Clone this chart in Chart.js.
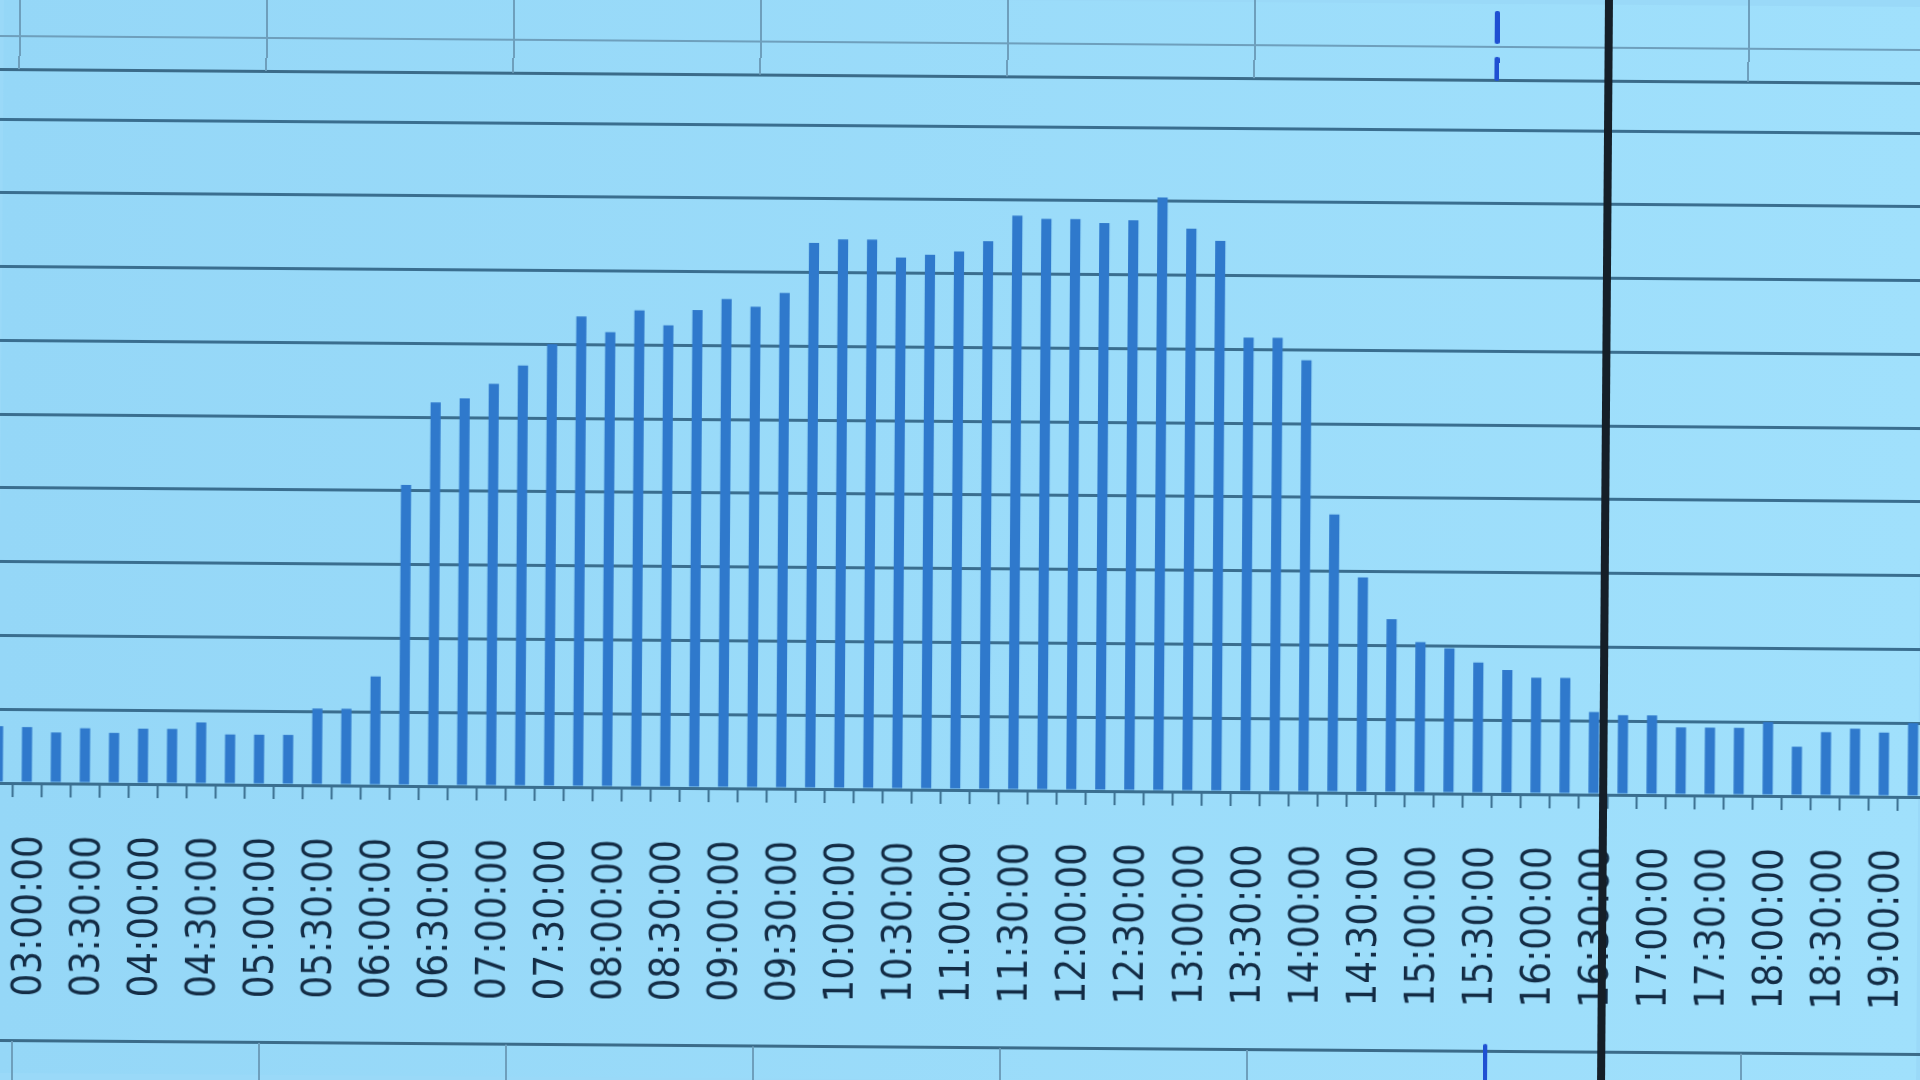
<!DOCTYPE html>
<html>
<head>
<meta charset="utf-8">
<script src="https://cdn.jsdelivr.net/npm/chart.js@4/dist/chart.umd.min.js"></script>
<style>
  html, body { margin: 0; padding: 0; width: 1920px; height: 1080px; overflow: hidden; background: #9ad9f8; }
  #screen {
    position: absolute; left: 0; top: 0; width: 1920px; height: 1080px;
    background: linear-gradient(to right, #95d7f7, #a0e0fc);
    transform: rotate(0.42deg); transform-origin: 960px 540px;
  }
  #myChart { position: absolute; left: -15px; top: 0; }
  .hline { position: absolute; left: -40px; width: 2000px; }
  .vline { position: absolute; width: 2px; background: #6e9fbc; }
  .mark { position: absolute; width: 5px; background: #1f50d2; border-radius: 2px; }
  #splitter { position: absolute; left: 1601px; top: -20px; width: 8px; height: 1120px; background: #151f28; }
</style>
</head>
<body>
<div id="screen">
  <canvas id="myChart" width="1944" height="1080"></canvas>
  <div id="sheet"></div>
  <div id="splitter"></div>
</div>
<script>
"use strict";

const timeLabels = [
  "02:45:00", "03:00:00", "03:15:00", "03:30:00", "03:45:00", "04:00:00", "04:15:00", "04:30:00", "04:45:00",
  "05:00:00", "05:15:00", "05:30:00", "05:45:00", "06:00:00", "06:15:00", "06:30:00", "06:45:00",
  "07:00:00", "07:15:00", "07:30:00", "07:45:00", "08:00:00", "08:15:00", "08:30:00", "08:45:00",
  "09:00:00", "09:15:00", "09:30:00", "09:45:00", "10:00:00", "10:15:00", "10:30:00", "10:45:00",
  "11:00:00", "11:15:00", "11:30:00", "11:45:00", "12:00:00", "12:15:00", "12:30:00", "12:45:00",
  "13:00:00", "13:15:00", "13:30:00", "13:45:00", "14:00:00", "14:15:00", "14:30:00", "14:45:00",
  "15:00:00", "15:15:00", "15:30:00", "15:45:00", "16:00:00", "16:15:00", "16:30:00", "16:45:00",
  "17:00:00", "17:15:00", "17:30:00", "17:45:00", "18:00:00", "18:15:00", "18:30:00", "18:45:00",
  "19:00:00", "19:15:00"
];

const loadValues = [
  0.77, 0.76, 0.69, 0.75, 0.69, 0.75, 0.75, 0.84, 0.68, 0.68, 0.68, 1.04, 1.04, 1.48,
  4.08, 5.20, 5.26, 5.46, 5.71, 6.00, 6.38, 6.17, 6.47, 6.27, 6.48, 6.63, 6.53, 6.72, 7.40,
  7.45, 7.45, 7.21, 7.25, 7.30, 7.44, 7.79, 7.75, 7.75, 7.70, 7.74, 8.05, 7.63, 7.47,
  6.16, 6.16, 5.86, 3.77, 2.92, 2.36, 2.05, 1.97, 1.78, 1.68, 1.58, 1.58, 1.12,
  1.08, 1.08, 0.92, 0.92, 0.92, 1.00, 0.67, 0.87, 0.92, 0.87, 1.00
];

// y axis has no visible labels, just 9 grid steps
const yMin = 0;
const yMax = 9;
const yStep = 1;

const gridColor = "#3a6e8f";
const ctx = document.getElementById("myChart");

// spreadsheet cells around the chart
const drawSheet = () => {
  const sheet = document.getElementById("sheet");
  let html = "";
  html += `<div class="hline" style="top:42px;height:2px;background:#6e9fbc"></div>`;
  html += `<div class="hline" style="top:75px;height:3px;background:#3b6b89"></div>`;
  html += `<div class="hline" style="top:1046px;height:3px;background:#3b6b89"></div>`;
  const cellX = [15, 262, 509, 756, 1003, 1250, 1744];
  for (let i = 0; i < cellX.length; i++) {
    html += `<div class="vline" style="left:${cellX[i]}px;top:-20px;height:96px"></div>`;
    html += `<div class="vline" style="left:${cellX[i]}px;top:1048px;height:60px"></div>`;
  }
  html += `<div class="mark" style="left:1491px;top:7px;height:33px"></div>`;
  html += `<div class="mark" style="left:1491px;top:53px;height:24px"></div>`;
  html += `<div class="mark" style="left:1487px;top:1040px;height:60px;width:4px"></div>`;
  sheet.innerHTML = html;
};

const showChart = () => {
  new Chart(ctx, {
    type: "bar",
    data: {
      labels: timeLabels,
      datasets: [
        {
          label: "load",
          data: loadValues,
          backgroundColor: "#2f79cc",
          borderWidth: 0,
          barPercentage: 0.35,
          categoryPercentage: 1,
        },
      ],
    },
    options: {
      responsive: false,
      animation: false,
      layout: { padding: { top: 126, left: 0, right: 0, bottom: 0 } },
      plugins: { legend: { display: false }, tooltip: { enabled: false } },
      scales: {
        x: {
          afterFit: (scale) => {
            scale.height = 290;
            scale.paddingLeft = 0;
            scale.paddingRight = 0;
          },
          grid: {
            offset: true,
            drawOnChartArea: false,
            drawTicks: true,
            tickLength: 14,
            tickWidth: 2,
            tickColor: gridColor,
          },
          border: { display: true, color: gridColor, width: 3 },
          ticks: {
            autoSkip: false,
            minRotation: 90,
            maxRotation: 90,
            padding: 38,
            labelOffset: 5,
            color: "#132c45",
            font: { family: "DejaVu Sans Condensed", size: 40 },
            callback: function (val) {
              const label = this.getLabelForValue(val);
              const minutes = label.slice(3, 5);
              return minutes === "00" || minutes === "30" ? label : "";
            },
          },
        },
        y: {
          min: yMin,
          max: yMax,
          afterFit: (scale) => { scale.width = 0; },
          ticks: { display: false, stepSize: yStep },
          grid: { color: gridColor, lineWidth: 3, drawTicks: false },
          border: { display: false },
        },
      },
    },
  });
};

drawSheet();
showChart();
</script>
</body>
</html>
